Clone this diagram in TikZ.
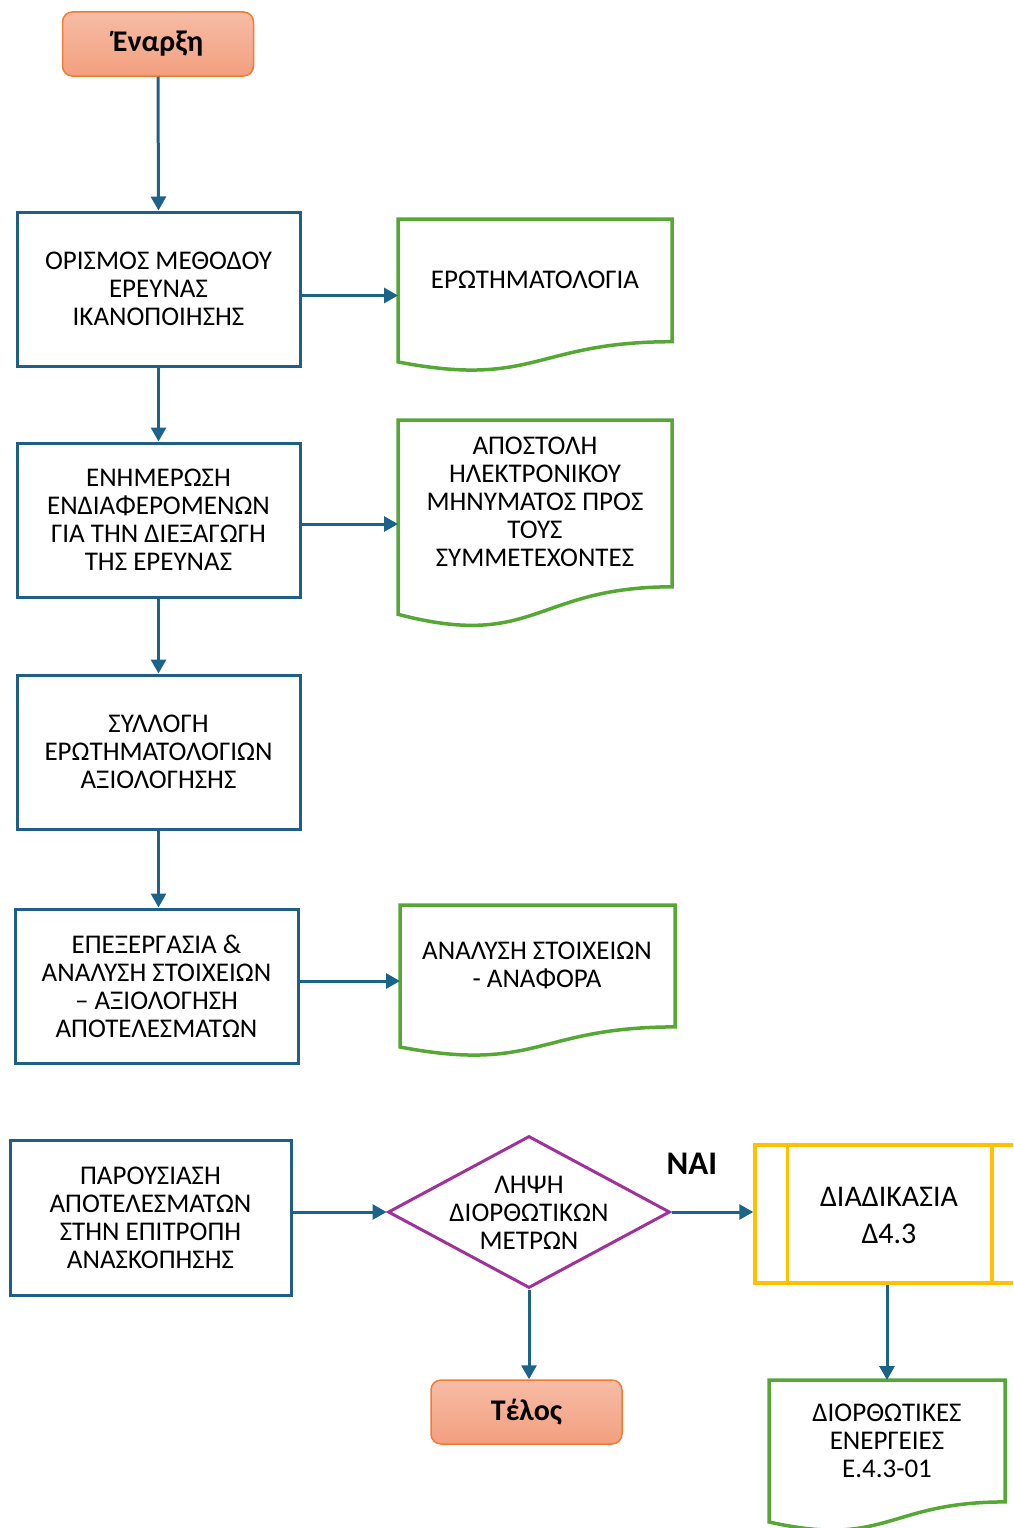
\documentclass[tikz,border=0pt]{standalone}
\usepackage{fontspec}
\setmainfont{Carlito}
\usetikzlibrary{arrows.meta,shapes.geometric,calc}

\definecolor{boxblue}{HTML}{1F5F86}
\definecolor{arrowblue}{HTML}{1B6388}
\definecolor{docgreen}{HTML}{55A834}
\definecolor{decpurple}{HTML}{A0319A}
\definecolor{procgold}{HTML}{FFC000}
\definecolor{termline}{HTML}{ED7D31}
\definecolor{termtop}{HTML}{F6BCA6}
\definecolor{termbot}{HTML}{F39F7E}

\tikzset{
  txt/.style={font=\fontsize{27}{28}\selectfont, align=center, inner sep=0pt},
  stepbox/.style={draw=boxblue, line width=3pt, minimum width=283pt, minimum height=154pt, inner sep=0pt},
  termbox/.style={draw=termline, line width=1.5pt, rounded corners=10pt, top color=termtop, bottom color=termbot,
    minimum width=191pt, minimum height=64pt, font=\bfseries\fontsize{30}{32}\selectfont},
  docbox/.style={inner sep=0pt, outer sep=0pt},
  docline/.style={draw=docgreen, line width=3.5pt, line join=miter},
  flow/.style={draw=arrowblue, line width=3pt, -{Triangle[length=14pt,width=15pt]}},
}

% document symbol: name, left x, top y, width, height
\newcommand\docpath[5]{%
  \node[docbox, minimum width=#4pt, minimum height=#5pt, anchor=north west] (#1) at (#2,#3) {};
  \draw[docline] (#2,#3) -- ({#2+#4},#3) -- ({#2+#4},{#3+0.802*#5})
    .. controls ({#2+0.5*#4},{#3+0.802*#5}) and ({#2+0.5*#4},{#3+1.1075*#5}) .. (#2,{#3+0.934*#5}) -- cycle;}

\begin{document}
\begin{tikzpicture}[x=1pt, y=-1pt]
\useasboundingbox (0,0) rectangle (1013,1528);
\clip (0,0) rectangle (1013,1528);

% start / end terminals
\node[termbox] (start) at (158,44) {Έναρξη};
\node[termbox] (stop) at (526.5,1412) {Τέλος};

% process steps
\node[stepbox, txt] (b1) at (158.5,289) {ΟΡΙΣΜΟΣ ΜΕΘΟΔΟΥ\\ΕΡΕΥΝΑΣ\\ΙΚΑΝΟΠΟΙΗΣΗΣ};
\node[stepbox, txt] (b2) at (158.5,520) {ΕΝΗΜΕΡΩΣΗ\\ΕΝΔΙΑΦΕΡΟΜΕΝΩΝ\\ΓΙΑ ΤΗΝ ΔΙΕΞΑΓΩΓΗ\\ΤΗΣ ΕΡΕΥΝΑΣ};
\node[stepbox, txt] (b3) at (158.5,752) {ΣΥΛΛΟΓΗ\\ΕΡΩΤΗΜΑΤΟΛΟΓΙΩΝ\\ΑΞΙΟΛΟΓΗΣΗΣ};
\node[stepbox, txt] (b4) at (156.5,986) {ΕΠΕΞΕΡΓΑΣΙΑ \&\\ΑΝΑΛΥΣΗ ΣΤΟΙΧΕΙΩΝ\\– ΑΞΙΟΛΟΓΗΣΗ\\ΑΠΟΤΕΛΕΣΜΑΤΩΝ};
\node[stepbox, txt, minimum width=281pt, minimum height=155pt] (b5) at (150.5,1217.5) {ΠΑΡΟΥΣΙΑΣΗ\\ΑΠΟΤΕΛΕΣΜΑΤΩΝ\\ΣΤΗΝ ΕΠΙΤΡΟΠΗ\\ΑΝΑΣΚΟΠΗΣΗΣ};

% documents
\docpath{d1}{398}{219}{274}{153}
\node[txt] (d1t) at (535,280) {ΕΡΩΤΗΜΑΤΟΛΟΓΙΑ};
\docpath{d2}{398}{420}{274}{208}
\node[txt] (d2t) at (535,502) {ΑΠΟΣΤΟΛΗ\\ΗΛΕΚΤΡΟΝΙΚΟΥ\\ΜΗΝΥΜΑΤΟΣ ΠΡΟΣ\\ΤΟΥΣ\\ΣΥΜΜΕΤΕΧΟΝΤΕΣ};
\docpath{d3}{400}{905}{275}{152}
\node[txt] (d3t) at (537,965) {ΑΝΑΛΥΣΗ ΣΤΟΙΧΕΙΩΝ\\- ΑΝΑΦΟΡΑ};
\docpath{d4}{769}{1380}{236}{152}
\node[txt] (d4t) at (887,1441) {ΔΙΟΡΘΩΤΙΚΕΣ\\ΕΝΕΡΓΕΙΕΣ\\Ε.4.3-01};

% decision
\node[diamond, draw=decpurple, line width=3pt, minimum width=282pt, minimum height=152pt, inner sep=0pt] (dec) at (529,1212) {};
\node[txt] (dect) at (529,1213) {ΛΗΨΗ\\ΔΙΟΡΘΩΤΙΚΩΝ\\ΜΕΤΡΩΝ};
\node[font=\bfseries\fontsize{33}{34}\selectfont, inner sep=0pt] (yes) at (692,1164) {ΝΑΙ};

% predefined process
\node[draw=procgold, line width=3.5pt, minimum width=269pt, minimum height=138pt, inner sep=0pt] (proc) at (889.5,1214) {};
\draw[procgold, line width=3.5pt] ($(proc.north west)+(34,0)$) -- ($(proc.south west)+(34,0)$);
\draw[procgold, line width=3.5pt] ($(proc.north east)+(-34,0)$) -- ($(proc.south east)+(-34,0)$);
\node[font=\fontsize{30}{37}\selectfont, align=center, inner sep=0pt] (proct) at (889,1215) {ΔΙΑΔΙΚΑΣΙΑ\\Δ4.3};

% connectors
\draw[flow] (start.south) -- (b1.north);
\draw[flow] (b1.east |- d1.west) -- (d1.west);
\draw[flow] (b1.south) -- (b2.north);
\draw[flow] (b2.east |- d2.west) -- (d2.west);
\draw[flow] (b2.south) -- (b3.north);
\draw[flow] (b3.south) -- (b3.south |- b4.north);
\draw[flow] (b4.east |- d3.west) -- (d3.west);
\draw[flow] (b5.east |- dec.west) -- (dec.west);
\draw[flow] (dec.east) -- (dec.east -| proc.west);
\draw[flow] (dec.south) -- (dec.south |- stop.north);
\draw[flow] (d4.north |- proc.south) -- (d4.north);
\end{tikzpicture}
\end{document}
